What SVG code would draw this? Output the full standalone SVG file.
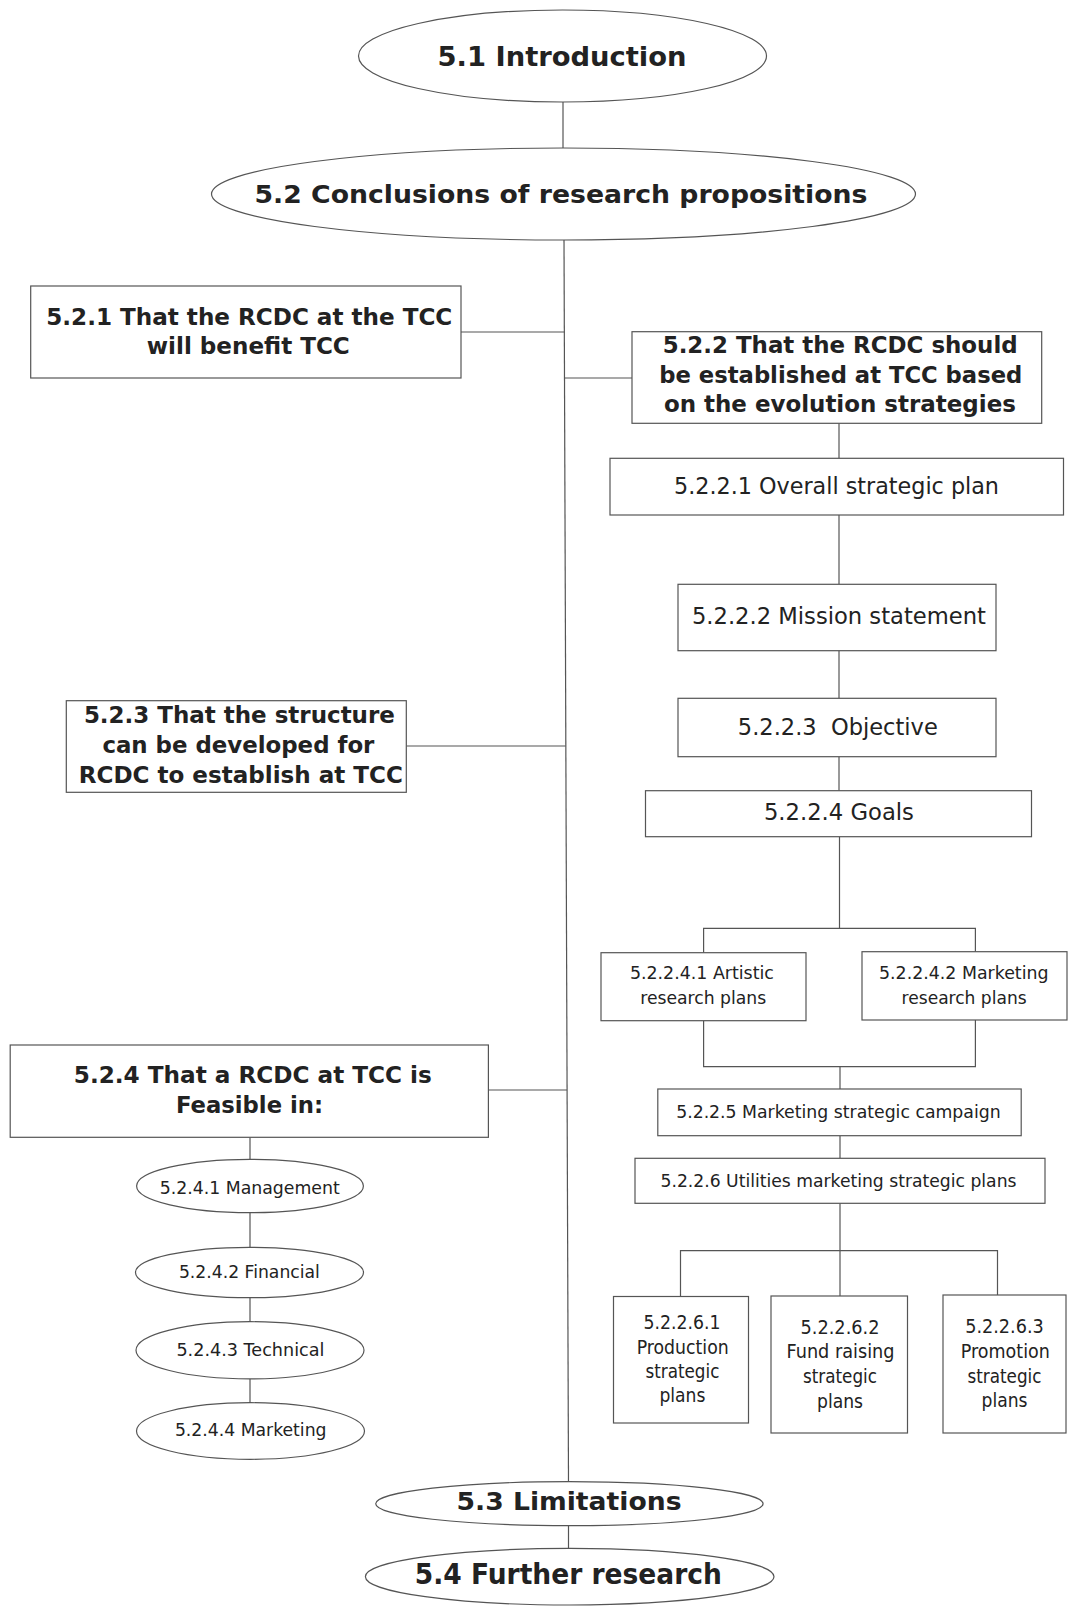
<svg xmlns="http://www.w3.org/2000/svg" width="1069" height="1607" viewBox="0 0 1069 1607">
<style>
  .shape { fill: #ffffff; stroke: #555555; stroke-width: 1.2; }
  .conn { fill: none; stroke: #555555; stroke-width: 1.2; }
  text { font-family: "DejaVu Sans", "Liberation Sans", sans-serif; fill: #222222; text-anchor: middle; white-space: pre; }
  .b { font-weight: bold; }
  .t26 { font-size: 26px; }
  .t25 { font-size: 25px; }
  .t28 { font-size: 28px; }
  .t23 { font-size: 23px; }
  .t22 { font-size: 23px; }
  .t19 { font-size: 19.5px; }
  .t18 { font-size: 18.5px; }
  .t17 { font-size: 18px; }
</style>
<rect x="0" y="0" width="1069" height="1607" fill="#ffffff"/>

<g id="connectors">
  <line class="conn" x1="563" y1="102" x2="563" y2="148"/>
  <line class="conn" x1="564" y1="240" x2="568.5" y2="1482"/>
  <line class="conn" x1="461" y1="332" x2="564.3" y2="332"/>
  <line class="conn" x1="564.5" y1="378" x2="632" y2="378"/>
  <line class="conn" x1="406.4" y1="746" x2="565.8" y2="746"/>
  <line class="conn" x1="488.4" y1="1090" x2="567" y2="1090"/>
  <line class="conn" x1="839" y1="423.3" x2="839" y2="458.3"/>
  <line class="conn" x1="839" y1="515" x2="839" y2="584.3"/>
  <line class="conn" x1="839" y1="650.7" x2="839" y2="698.3"/>
  <line class="conn" x1="839" y1="756.7" x2="839" y2="790.7"/>
  <line class="conn" x1="839.5" y1="836.7" x2="839.5" y2="928.3"/>
  <polyline class="conn" points="703.6,952.7 703.6,928.3 975.4,928.3 975.4,951.7"/>
  <polyline class="conn" points="703.6,1020.7 703.6,1066.7 975.4,1066.7 975.4,1020"/>
  <line class="conn" x1="840" y1="1066.7" x2="840" y2="1089"/>
  <line class="conn" x1="840" y1="1135.7" x2="840" y2="1158.3"/>
  <line class="conn" x1="840" y1="1203.3" x2="840" y2="1296"/>
  <polyline class="conn" points="680.5,1296.5 680.5,1250.7 997.5,1250.7 997.5,1295"/>
  <line class="conn" x1="250" y1="1137.3" x2="250" y2="1159.3"/>
  <line class="conn" x1="250" y1="1212.7" x2="250" y2="1247.3"/>
  <line class="conn" x1="250" y1="1297.7" x2="250" y2="1321.7"/>
  <line class="conn" x1="250" y1="1379" x2="250" y2="1402.7"/>
  <line class="conn" x1="568.5" y1="1525.7" x2="568.5" y2="1548.3"/>
</g>

<g id="n51">
  <ellipse class="shape" cx="562.5" cy="56" rx="204" ry="46"/>
  <text class="b t26" x="562" y="66" textLength="249" lengthAdjust="spacingAndGlyphs">5.1 Introduction</text>
</g>

<g id="n52">
  <ellipse class="shape" cx="563.5" cy="194" rx="352" ry="46"/>
  <text class="b t25" x="561" y="203" textLength="613" lengthAdjust="spacingAndGlyphs">5.2 Conclusions of research propositions</text>
</g>

<g id="n521">
  <rect class="shape" x="30.7" y="286" width="430.3" height="92"/>
  <text class="b t23" x="249.3" y="325" textLength="406" lengthAdjust="spacingAndGlyphs">5.2.1 That the RCDC at the TCC</text>
  <text class="b t23" x="248.3" y="354" textLength="203" lengthAdjust="spacingAndGlyphs">will benefit TCC</text>
</g>

<g id="n522">
  <rect class="shape" x="632" y="331.7" width="409.7" height="91.6"/>
  <text class="b t23" x="840.2" y="353" textLength="355" lengthAdjust="spacingAndGlyphs">5.2.2 That the RCDC should</text>
  <text class="b t23" x="840.8" y="383" textLength="363" lengthAdjust="spacingAndGlyphs">be established at TCC based</text>
  <text class="b t23" x="839.9" y="412" textLength="352" lengthAdjust="spacingAndGlyphs">on the evolution strategies</text>
</g>

<g id="n5221">
  <rect class="shape" x="610" y="458.3" width="453.5" height="56.7"/>
  <text class="t22" x="836.5" y="494" textLength="325" lengthAdjust="spacingAndGlyphs">5.2.2.1 Overall strategic plan</text>
</g>

<g id="n5222">
  <rect class="shape" x="678" y="584.3" width="318" height="66.4"/>
  <text class="t22" x="838.9" y="624" textLength="294" lengthAdjust="spacingAndGlyphs">5.2.2.2 Mission statement</text>
</g>

<g id="n5223">
  <rect class="shape" x="678" y="698.3" width="318" height="58.4"/>
  <text class="t22" x="837.8" y="735" textLength="200" lengthAdjust="spacingAndGlyphs">5.2.2.3  Objective</text>
</g>

<g id="n5224">
  <rect class="shape" x="645.5" y="790.7" width="386" height="46"/>
  <text class="t22" x="838.9" y="820" textLength="150" lengthAdjust="spacingAndGlyphs">5.2.2.4 Goals</text>
</g>

<g id="n523">
  <rect class="shape" x="66.3" y="700.7" width="340" height="91.6"/>
  <text class="b t23" x="239.4" y="722.7" textLength="311" lengthAdjust="spacingAndGlyphs">5.2.3 That the structure</text>
  <text class="b t23" x="238.4" y="753.3" textLength="272" lengthAdjust="spacingAndGlyphs">can be developed for</text>
  <text class="b t23" x="240.8" y="783.3" textLength="324" lengthAdjust="spacingAndGlyphs">RCDC to establish at TCC</text>
</g>

<g id="n52241">
  <rect class="shape" x="601" y="952.7" width="205" height="68"/>
  <text class="t17" x="701.9" y="979" textLength="144" lengthAdjust="spacingAndGlyphs">5.2.2.4.1 Artistic</text>
  <text class="t17" x="703.2" y="1004" textLength="126" lengthAdjust="spacingAndGlyphs">research plans</text>
</g>

<g id="n52242">
  <rect class="shape" x="862" y="951.7" width="205" height="68.3"/>
  <text class="t17" x="963.8" y="979" textLength="169.5" lengthAdjust="spacingAndGlyphs">5.2.2.4.2 Marketing</text>
  <text class="t17" x="964.1" y="1004" textLength="125" lengthAdjust="spacingAndGlyphs">research plans</text>
</g>

<g id="n5225">
  <rect class="shape" x="657.8" y="1089" width="363.4" height="46.7"/>
  <text class="t18" x="838.4" y="1118" textLength="324.5" lengthAdjust="spacingAndGlyphs">5.2.2.5 Marketing strategic campaign</text>
</g>

<g id="n5226">
  <rect class="shape" x="635" y="1158.3" width="410" height="45"/>
  <text class="t18" x="838.5" y="1187" textLength="356" lengthAdjust="spacingAndGlyphs">5.2.2.6 Utilities marketing strategic plans</text>
</g>

<g id="n524">
  <rect class="shape" x="10.2" y="1045" width="478.2" height="92.3"/>
  <text class="b t23" x="252.8" y="1082.7" textLength="358" lengthAdjust="spacingAndGlyphs">5.2.4 That a RCDC at TCC is</text>
  <text class="b t23" x="249.5" y="1113.3" textLength="147" lengthAdjust="spacingAndGlyphs">Feasible in:</text>
</g>

<g id="n5241">
  <ellipse class="shape" cx="250" cy="1186" rx="113.4" ry="26.7"/>
  <text class="t18" x="249.7" y="1194" textLength="180" lengthAdjust="spacingAndGlyphs">5.2.4.1 Management</text>
</g>

<g id="n5242">
  <ellipse class="shape" cx="249.5" cy="1272.5" rx="114" ry="25.2"/>
  <text class="t18" x="249.4" y="1277.5" textLength="141" lengthAdjust="spacingAndGlyphs">5.2.4.2 Financial</text>
</g>

<g id="n5243">
  <ellipse class="shape" cx="250" cy="1350.3" rx="114" ry="28.6"/>
  <text class="t18" x="250.4" y="1355.7" textLength="148" lengthAdjust="spacingAndGlyphs">5.2.4.3 Technical</text>
</g>

<g id="n5244">
  <ellipse class="shape" cx="250.5" cy="1431" rx="114" ry="28.3"/>
  <text class="t18" x="250.7" y="1435.7" textLength="151.6" lengthAdjust="spacingAndGlyphs">5.2.4.4 Marketing</text>
</g>

<g id="n52261">
  <rect class="shape" x="613.5" y="1296.5" width="135" height="126.5"/>
  <text class="t19" x="682" y="1329.3" textLength="77" lengthAdjust="spacingAndGlyphs">5.2.2.6.1</text>
  <text class="t19" x="682.7" y="1354.3" textLength="92" lengthAdjust="spacingAndGlyphs">Production</text>
  <text class="t19" x="682.4" y="1377.7" textLength="74" lengthAdjust="spacingAndGlyphs">strategic</text>
  <text class="t19" x="682.4" y="1401.7" textLength="46" lengthAdjust="spacingAndGlyphs">plans</text>
</g>

<g id="n52262">
  <rect class="shape" x="771" y="1296" width="136.5" height="137"/>
  <text class="t19" x="840" y="1334.3" textLength="79" lengthAdjust="spacingAndGlyphs">5.2.2.6.2</text>
  <text class="t19" x="840.5" y="1358.3" textLength="108" lengthAdjust="spacingAndGlyphs">Fund raising</text>
  <text class="t19" x="840" y="1383.3" textLength="74" lengthAdjust="spacingAndGlyphs">strategic</text>
  <text class="t19" x="840" y="1407.7" textLength="46" lengthAdjust="spacingAndGlyphs">plans</text>
</g>

<g id="n52263">
  <rect class="shape" x="943" y="1295" width="123" height="138"/>
  <text class="t19" x="1004.5" y="1333.3" textLength="78.6" lengthAdjust="spacingAndGlyphs">5.2.2.6.3</text>
  <text class="t19" x="1005.3" y="1358" textLength="89" lengthAdjust="spacingAndGlyphs">Promotion</text>
  <text class="t19" x="1004.5" y="1382.7" textLength="74" lengthAdjust="spacingAndGlyphs">strategic</text>
  <text class="t19" x="1004.5" y="1407.3" textLength="46" lengthAdjust="spacingAndGlyphs">plans</text>
</g>

<g id="n53">
  <ellipse class="shape" cx="569.4" cy="1503.7" rx="193.7" ry="22"/>
  <text class="b t25" x="569" y="1510" textLength="225" lengthAdjust="spacingAndGlyphs">5.3 Limitations</text>
</g>

<g id="n54">
  <ellipse class="shape" cx="569.7" cy="1576.7" rx="204.3" ry="28.3"/>
  <text class="b t28" x="568.3" y="1584" textLength="307" lengthAdjust="spacingAndGlyphs">5.4 Further research</text>
</g>
</svg>
